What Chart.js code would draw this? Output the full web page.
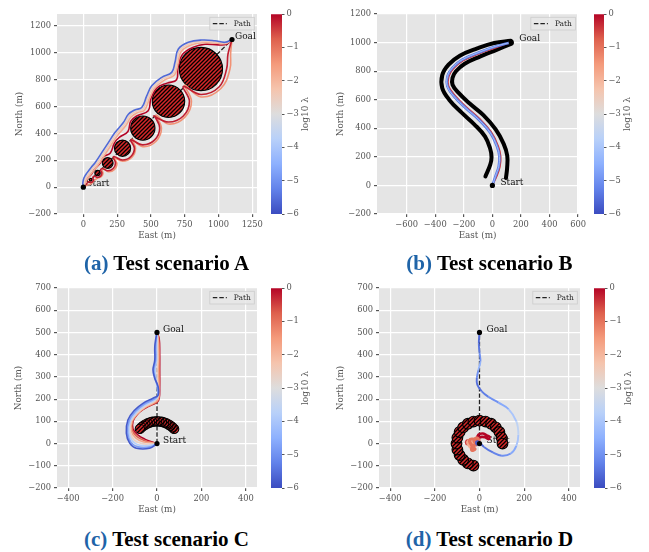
<!DOCTYPE html>
<html>
<head>
<meta charset="utf-8">
<script src="https://cdn.jsdelivr.net/npm/chart.js@4.4.1/dist/chart.umd.min.js"></script>
<style>
  body { margin: 0; background: #fff; }
  #wrap { position: relative; width: 649px; height: 552px; overflow: hidden; }
  canvas { position: absolute; }
  .cap { position: absolute; width: 325px; text-align: center; font: bold 21px "Liberation Serif", serif; line-height: 24px; color: #000; white-space: nowrap; }
  .cap span { color: #1f64a8; }
</style>
</head>
<body>
<div id="wrap">
  <canvas id="mainA" width="272" height="245" style="left:0px;top:0px"></canvas>
  <canvas id="barA" width="62" height="245" style="left:262px;top:0px"></canvas>
  <canvas id="mainB" width="264" height="245" style="left:325px;top:0px"></canvas>
  <canvas id="barB" width="62" height="245" style="left:586px;top:0px"></canvas>
  <canvas id="mainC" width="272" height="245" style="left:0px;top:274px"></canvas>
  <canvas id="barC" width="62" height="245" style="left:262px;top:274px"></canvas>
  <canvas id="mainD" width="264" height="245" style="left:325px;top:274px"></canvas>
  <canvas id="barD" width="62" height="245" style="left:586px;top:274px"></canvas>
  <div class="cap" style="left:4px;top:251px"><span>(a)</span> Test scenario A</div>
  <div class="cap" style="left:327px;top:251px"><span>(b)</span> Test scenario B</div>
  <div class="cap" style="left:4px;top:527px"><span>(c)</span> Test scenario C</div>
  <div class="cap" style="left:327px;top:527px"><span>(d)</span> Test scenario D</div>
</div>
<script>
// ---- colour bar (log10 lambda) ----
const cbTicks = [0, -1, -2, -3, -4, -5, -6];
const lamMin = -6, lamMax = 0;

// ---- scenario A ----
const ticksAx = [0, 250, 500, 750, 1000, 1250];
const ticksAy = [-200, 0, 200, 400, 600, 800, 1000, 1200];
const marksA = [[0, 0], [1100, 1100]];
const pathA = [[0, 0], [1100, 1100]];
const obstA = [[870, 880, 160], [630, 640, 120], [440, 440, 90], [290, 290, 60], [180, 180, 40], [105, 105, 20], [55, 55, 10]];
const trajA1 = [[0,0],[-4,30],[5,70],[30,110],[60,150],[87,182],[136,257],[185,332],[234,407],[296,481],[333,543],[380,575],[432,593],[469,680],[506,755],[580,818],[654,855],[678,930],[703,1029],[777,1079],[876,1096],[974,1091],[1048,1079],[1100,1100]];
const trajA2 = [[0,0],[6,28],[15,62],[40,100],[70,140],[97,172],[146,247],[195,322],[244,397],[306,471],[343,533],[390,565],[442,583],[479,670],[516,745],[590,808],[664,845],[688,920],[713,1019],[787,1069],[886,1086],[982,1082],[1052,1074],[1100,1100]];
const trajA3 = [[0,0],[12,24],[25,55],[50,90],[80,130],[107,162],[156,237],[205,312],[254,387],[316,461],[353,523],[400,555],[452,573],[489,660],[526,735],[600,798],[674,835],[698,910],[723,1009],[797,1059],[896,1076],[990,1072],[1056,1070],[1100,1100]];
const trajA4 = [[0,0],[12,30],[35,70],[62,100],[85,135],[125,180],[150,225],[200,255],[230,330],[265,370],[330,415],[350,490],[395,530],[480,570],[500,660],[545,740],[620,775],[690,800],[700,890],[735,990],[820,1045],[900,1065],[1000,1060],[1060,1065],[1100,1100]];
const trajA5 = [[0,0],[41,41],[55,35],[69,41],[75,55],[69,69],[82,82],[105,73],[128,82],[137,105],[128,128],[139,139],[180,122],[221,139],[238,180],[221,221],[228,228],[290,202],[352,228],[378,290],[352,352],[440,315],[528,352],[565,440],[528,528],[520,530],[630,485],[740,530],[785,640],[740,750],[870,690],[1004,746],[1060,880],[1070,990],[1100,1100]];
const trajA6 = [[0,0],[30,15],[62,28],[80,50],[100,65],[132,78],[145,100],[140,130],[150,140],[185,115],[230,132],[248,180],[222,222],[290,194],[358,222],[386,290],[358,358],[440,302],[538,342],[578,440],[538,538],[630,470],[750,520],[800,640],[750,760],[870,672],[1018,735],[1085,880],[1090,1000],[1100,1100]];
const lamA = [-5.6, -2.5, -1.8, 0, -0.2, -1.4];

// ---- scenario B ----
const ticksBx = [-600, -400, -200, 0, 200, 400, 600];
const ticksBy = [-200, 0, 200, 400, 600, 800, 1000, 1200];
const marksB = [[0, 0], [132, 1003]];
const trajB1 = [[0,0],[21,63],[44,133],[49,203],[32,273],[-14,367],[-95,460],[-188,542],[-269,623],[-315,693],[-315,763],[-281,822],[-211,880],[-95,931],[21,973],[132,1003]];
const trajB2 = [[0,0],[30,60],[54,131],[59,204],[41,277],[-6,373],[-88,467],[-181,549],[-261,630],[-306,696],[-305,760],[-274,815],[-206,871],[-91,922],[24,963],[132,1003]];
const pathB = trajB1;
const wallBL = [[-49,63],[-15,145],[-6,198],[-15,255],[-51,342],[-127,428],[-217,511],[-300,597],[-351,681],[-351,772],[-307,845],[-228,908],[-106,959],[13,997],[129,1013]];
const wallBR = [[95,52],[103,121],[104,208],[79,291],[23,392],[-63,492],[-159,573],[-238,649],[-279,705],[-279,754],[-255,799],[-194,852],[-84,903],[29,949],[135,993]];
const lamB = [-4, -5.3, -0.4];

// ---- scenario C ----
const ticksCx = [-400, -200, 0, 200, 400];
const ticksCy = [-200, -100, 0, 100, 200, 300, 400, 500, 600, 700];
const marksC = [[0, 0], [0, 500]];
const pathC = [[0, 0], [0, 500]];
const obstC = [[77,66,21],[70,73,21],[61,80,21],[52,86,21],[42,91,21],[32,95,21],[22,98,21],[11,99,21],[0,100,21],[-11,99,21],[-22,98,21],[-32,95,21],[-42,91,21],[-52,86,21],[-61,80,21],[-70,73,21],[-77,66,21]];
const trajC1 = [[0,0],[-33,-21],[-93,-21],[-123,2],[-138,47],[-131,106],[-100,151],[-63,181],[-18,204],[5,218],[5,256],[-10,293],[-18,331],[-10,376],[-10,435],[-5,475],[0,500]];
const trajC2 = [[0,0],[-30,-15],[-85,-15],[-117,5],[-132,47],[-125,104],[-95,147],[-58,177],[-15,199],[3,215],[2,256],[-8,293],[-14,331],[-6,376],[-6,435],[-3,475],[0,500]];
const trajC3 = [[0,0],[-30,-8],[-78,-8],[-110,10],[-126,48],[-120,102],[-90,143],[-54,173],[-12,195],[2,212],[0,256],[-5,293],[-8,331],[-2,376],[-2,435],[0,475],[0,500]];
const trajC4 = [[0,0],[-28,-2],[-70,0],[-103,16],[-120,50],[-116,100],[-86,140],[-50,169],[-8,192],[4,210],[4,256],[1,293],[0,331],[3,376],[2,435],[2,475],[0,500]];
const trajC5 = [[0,0],[-27,3],[-63,8],[-96,25],[-115,55],[-113,100],[-88,134],[-55,162],[-18,181],[6,200],[8,256],[6,331],[7,406],[5,470],[0,500]];
const trajC6 = [[0,0],[-26,6],[-58,14],[-90,31],[-111,60],[-110,100],[-89,132],[-58,158],[-24,176],[3,192],[10,256],[10,331],[10,406],[8,470],[0,500]];
const trajC7 = [[0,0],[-25,8],[-55,20],[-85,38],[-108,65],[-108,100],[-90,130],[-60,155],[-28,172],[0,185],[10,205],[12,256],[12,330],[12,406],[10,470],[0,500]];
const lamC = [-5.8, -4.8, -3.8, -2.6, -1.7, -0.8, 0];

// ---- scenario D ----
const marksD = [[0, 0], [0, 500]];
const pathD = [[0, 0], [0, 500]];
const obstD = [[-27,-99,24],[-52,-89,24],[-73,-73,24],[-89,-52,24],[-99,-27,24],[-103,0,24],[-99,27,24],[-89,52,24],[-73,73,24],[-52,89,24],[-27,99,24],[0,103,24],[27,99,24],[52,89,24],[73,73,24],[89,52,24],[99,27,24],[103,0,24]];
const trajD1 = [[0,0],[-12,-5],[-15,8],[-5,10],[20,-15],[60,-40],[100,-55],[140,-45],[165,-10],[174,40],[165,100],[130,155],[85,184],[40,210],[10,235],[-10,265],[-12,295],[-5,330],[4,370],[0,410],[-3,450],[0,500]];
const lamD1 = [-5.8,-5.8,-5.8,-5.6,-5.4,-5.2,-5,-4.6,-4,-3.6,-4,-4.6,-5,-5.3,-5.5,-5.5,-5,-4.4,-5,-5.4,-5.6,-5.8];
const trajD2 = [[0,0],[-15,10],[-30,20],[-45,15],[-40,0],[-30,-15],[-20,-25],[-35,-30],[-30,-10],[-15,-5],[-25,15],[-10,25],[0,10]];
const trajD3 = [[0,0],[-10,20],[-5,40],[15,45],[30,38],[45,30],[40,20],[25,28],[10,30],[-5,25]];
const trajD4 = [[0,0],[-20,-5],[-35,5],[-50,10],[-45,-10],[-30,-20],[-25,5],[-10,15]];
const trajD5 = [[-40,5],[-55,15],[-62,5],[-55,-5],[-45,0]];
const lamD = [lamD1, -1, 0, -1.8, -0.5];

// ---- helpers ----
const cwStops = [[59,76,192],[98,130,234],[141,176,254],[184,208,249],[221,221,221],[245,196,173],[244,154,123],[222,96,77],[180,4,38]];
function cmap(l) {
  let t = (l - lamMin) / (lamMax - lamMin);
  t = Math.max(0, Math.min(1, t));
  const p = t * 8, i = Math.min(7, Math.floor(p)), f = p - i;
  const a = cwStops[i], b = cwStops[i + 1];
  return 'rgb(' + a.map((v, k) => Math.round(v + (b[k] - v) * f)).join(',') + ')';
}
const fmt = v => (v < 0 ? '\u2212' + Math.abs(v) : String(v));
const pts = arr => arr.map(p => ({ x: p[0], y: p[1] }));
const circ = arr => arr.map(p => ({ x: p[0], y: p[1], r: p[2] }));

Chart.defaults.font.family = '"DejaVu Serif", serif';
Chart.defaults.color = '#555';

// hatch tile for obstacles
const tile = document.createElement('canvas');
tile.width = 4; tile.height = 4;
(function () {
  const g = tile.getContext('2d');
  g.fillStyle = '#d62728'; g.fillRect(0, 0, 4, 4);
  g.strokeStyle = '#000'; g.lineWidth = 1.3;
  g.beginPath();
  g.moveTo(0, 4); g.lineTo(4, 0);
  g.moveTo(-1, 1); g.lineTo(1, -1);
  g.moveTo(3, 5); g.lineTo(5, 3);
  g.stroke();
})();

const bgPlugin = {
  id: 'bg',
  beforeDraw(chart) {
    const { ctx, chartArea: a } = chart;
    ctx.save();
    ctx.fillStyle = '#e5e5e5';
    ctx.fillRect(a.left, a.top, a.width, a.height);
    ctx.restore();
  }
};

const markLabels = {
  id: 'markLabels',
  beforeDatasetsDraw(chart) {
    const ds = chart.data.datasets[0];
    const { ctx, scales: { x, y } } = chart;
    ctx.save();
    ctx.font = '9px "DejaVu Serif"';
    ctx.fillStyle = '#111';
    ctx.textBaseline = 'middle';
    ds.data.forEach((p, i) => ctx.fillText(ds.names[i], x.getPixelForValue(p.x) + ds.labelDx, y.getPixelForValue(p.y) - 3));
    ctx.restore();
  }
};

const pathLegend = {
  id: 'pathLegend',
  afterDatasetsDraw(chart) {
    const ds = chart.data.datasets.find(d => d.label === 'Path');
    const a = chart.chartArea, ctx = chart.ctx;
    const w = 44.5, h = 12.7, x0 = a.right - 2.7 - w, y0 = a.top + 3.3;
    ctx.save();
    ctx.fillStyle = 'rgba(232,232,232,0.85)';
    ctx.strokeStyle = '#cccccc';
    ctx.lineWidth = 0.8;
    ctx.fillRect(x0, y0, w, h);
    ctx.strokeRect(x0, y0, w, h);
    ctx.strokeStyle = ds.borderColor;
    ctx.lineWidth = ds.borderWidth;
    ctx.setLineDash(ds.borderDash);
    ctx.beginPath(); ctx.moveTo(x0 + 3, y0 + h / 2); ctx.lineTo(x0 + 17, y0 + h / 2); ctx.stroke();
    ctx.setLineDash([]);
    ctx.fillStyle = '#222';
    ctx.font = '7.5px "DejaVu Serif"';
    ctx.textBaseline = 'middle';
    ctx.fillText(ds.label, x0 + 24, y0 + h / 2 + 0.5);
    ctx.restore();
  }
};

const cbLabel = {
  id: 'cbLabel',
  afterDraw(chart) {
    const { ctx, chartArea: a } = chart;
    ctx.save();
    ctx.translate(a.right + 24, (a.top + a.bottom) / 2);
    ctx.rotate(-Math.PI / 2);
    ctx.font = '9px "DejaVu Serif"';
    ctx.fillStyle = '#555';
    ctx.textAlign = 'center';
    ctx.textBaseline = 'middle';
    ctx.fillText('log10 \u03bb', 0, 0);
    ctx.restore();
  }
};

function mainChart(id, c) {
  const ds = [];
  ds.push({ label: 'marks', data: pts(c.marks), names: ['Start', 'Goal'], labelDx: c.dx,
    pointRadius: 2.6, pointBackgroundColor: '#000', pointBorderWidth: 0 });
  c.trajs.forEach((t, i) => {
    const lam = c.lams[i];
    const many = Array.isArray(lam);
    ds.push({ label: 't' + i, data: pts(t), showLine: true, pointRadius: 0, tension: 0.4,
      borderWidth: c.widths ? c.widths[i] : 1.6,
      borderColor: cmap(many ? lam[0] : lam),
      segment: { borderColor: s => cmap(many ? lam[s.p0DataIndex] : lam) } });
  });
  (c.walls || []).forEach(w => {
    ds.push({ label: 'wall', data: pts(w), showLine: true, pointRadius: 0, tension: 0.4,
      borderWidth: 4, borderColor: '#000', borderCapStyle: 'round' });
  });
  if (c.obst) {
    ds.push({ label: 'obst', data: circ(c.obst),
      pointRadius: s => { const x = s.chart.scales.x; return s.raw ? Math.abs(x.getPixelForValue(s.raw.r) - x.getPixelForValue(0)) : 0; },
      pointBackgroundColor: s => s.chart.$hatch || (s.chart.$hatch = s.chart.ctx.createPattern(tile, 'repeat')),
      pointBorderColor: '#000', pointBorderWidth: 1.1 });
  }
  ds.push({ label: 'Path', data: pts(c.path), showLine: true, pointRadius: 0, tension: 0.4,
    borderColor: '#222', borderWidth: 1.3, borderDash: [4.5, 2] });

  const axis = (ticks, extra) => Object.assign({
    type: 'linear',
    afterBuildTicks: s => { s.ticks = ticks.map(v => ({ value: v })); },
    grid: { color: '#ffffff', lineWidth: 1.2, tickColor: '#555', tickLength: 3 },
    border: { display: false },
    ticks: { color: '#555', font: { size: 8.3 }, maxRotation: 0, autoSkip: false, callback: fmt }
  }, extra);

  return new Chart(document.getElementById(id), {
    type: 'scatter',
    data: { datasets: ds },
    options: {
      responsive: false, animation: false, events: [], devicePixelRatio: 1,
      layout: { padding: { left: 0, top: 14, right: c.padR, bottom: 0 } },
      plugins: { legend: { display: false }, tooltip: { enabled: false } },
      scales: {
        x: axis(c.xt, { position: 'bottom', min: c.xr[0], max: c.xr[1],
          afterFit: s => { s.height = 31; },
          title: { display: true, text: 'East (m)', color: '#555', font: { size: 8.8 }, padding: { top: 2, bottom: 4 } } }),
        y: axis(c.yt, { position: 'left', min: c.yr[0], max: c.yr[1],
          afterFit: s => { s.width = c.yW; },
          title: { display: true, text: 'North (m)', color: '#555', font: { size: 8.8 }, padding: { top: c.tPad, bottom: 0 } } })
      }
    },
    plugins: [bgPlugin, markLabels, pathLegend]
  });
}

function colorBar(id, padL, axW) {
  return new Chart(document.getElementById(id), {
    type: 'bar',
    data: { labels: [''], datasets: [{ data: [[lamMin, lamMax]], borderWidth: 0, barPercentage: 1, categoryPercentage: 1,
      backgroundColor: s => {
        const a = s.chart.chartArea;
        if (!a) return cmap(-3);
        const g = s.chart.ctx.createLinearGradient(0, a.bottom, 0, a.top);
        cwStops.forEach((st, i) => g.addColorStop(i / (cwStops.length - 1), 'rgb(' + st.join(',') + ')'));
        return g;
      } }] },
    options: {
      responsive: false, animation: false, events: [], devicePixelRatio: 1,
      layout: { padding: { left: padL, top: 14, right: 0, bottom: 31 } },
      plugins: { legend: { display: false }, tooltip: { enabled: false } },
      scales: {
        x: { display: false },
        y: { position: 'right', min: lamMin, max: lamMax,
          afterBuildTicks: s => { s.ticks = cbTicks.map(v => ({ value: v })); },
          afterFit: s => { s.width = axW; },
          grid: { drawOnChartArea: false, tickColor: '#555', tickLength: 2.5 },
          border: { display: false },
          ticks: { color: '#555', font: { size: 8.3 }, padding: 2, callback: fmt } }
      }
    },
    plugins: [cbLabel]
  });
}

mainChart('mainA', { marks: marksA, path: pathA, obst: obstA, dx: 3,
  trajs: [trajA1, trajA2, trajA3, trajA4, trajA5, trajA6], lams: lamA,
  xt: ticksAx, yt: ticksAy, xr: [-195, 1285], yr: [-200, 1290], yW: 57, padR: 15, tPad: 14 });
mainChart('mainB', { marks: marksB, path: pathB, walls: [wallBL, wallBR], dx: 8,
  trajs: [trajB1, trajB1, trajB2], lams: lamB, widths: [0.9, 2.6, 1.3],
  xt: ticksBx, yt: ticksBy, xr: [-808, 600], yr: [-200, 1200], yW: 52, padR: 10, tPad: 10.7 });
mainChart('mainC', { marks: marksC, path: pathC, obst: obstC, dx: 6,
  trajs: [trajC1, trajC2, trajC3, trajC4, trajC5, trajC6, trajC7], lams: lamC,
  xt: ticksCx, yt: ticksCy, xr: [-450, 450], yr: [-200, 700], yW: 57, padR: 15, tPad: 13 });
mainChart('mainD', { marks: marksD, path: pathD, obst: obstD, dx: 7,
  trajs: [trajD1, trajD2, trajD3, trajD4, trajD5], lams: lamD, widths: [1.9, 3.2, 2.6, 3.4, 1.8],
  xt: ticksCx, yt: ticksCy, xr: [-450, 450], yr: [-200, 700], yW: 54, padR: 9, tPad: 10.7 });

colorBar('barA', 9, 42);
colorBar('barB', 8, 44);
colorBar('barC', 9, 42);
colorBar('barD', 8, 43);
</script>
</body>
</html>
